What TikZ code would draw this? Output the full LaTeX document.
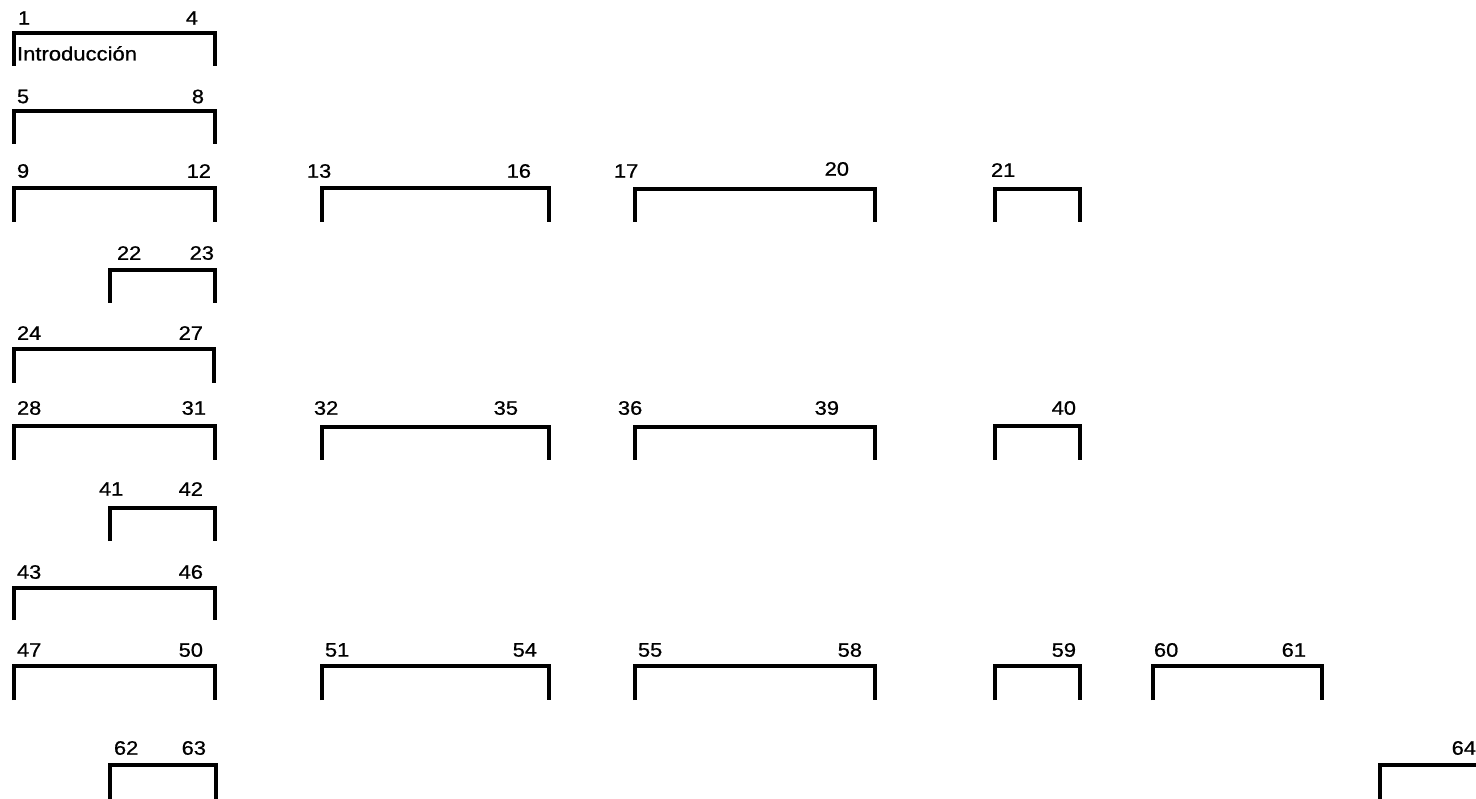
\documentclass[tikz,border=0pt]{standalone}
\usepackage{fontspec}
\setmainfont{Liberation Sans}
\newfontfamily\scanfont[FakeBold=0.7]{Liberation Sans}
\newcommand{\lbx}[1]{\scalebox{1.12}[1]{#1}}
\tikzset{
  bline/.style={draw=black, line width=4.2pt, miter limit=10, line join=miter},
  lbl/.style={inner sep=0pt, outer sep=0pt, font=\scanfont\fontsize{19.5pt}{21pt}\selectfont},
}
% \brk{x1}{x2}{top}{bottom}
\newcommand{\brk}[4]{\draw[bline] (#1,#4) -- (#1,#3) -- (#2,#3) -- (#2,#4);}
\begin{document}
\begin{tikzpicture}[x=1pt,y=-1pt]
\useasboundingbox (0,0) rectangle (1476,799);
\fill[white] (0,0) rectangle (1476,799);
% brackets
\brk{14}{215}{33}{66}
\brk{14}{215}{111}{144}
\brk{14}{215}{188}{222}
\brk{322}{549}{188}{222}
\brk{635}{875}{189}{222}
\brk{995}{1080}{189}{222}
\brk{110}{215}{270}{303}
\brk{14}{214}{349}{383}
\brk{14}{215}{426}{460}
\brk{322}{549}{427}{460}
\brk{635}{875}{427}{460}
\brk{995}{1080}{426}{460}
\brk{110}{215}{508}{541}
\brk{14}{215}{588}{620}
\brk{14}{215}{666}{700}
\brk{322}{549}{666}{700}
\brk{635}{875}{666}{700}
\brk{995}{1080}{666}{700}
\brk{1153}{1322}{666}{700}
\brk{110}{216}{765}{810}
\brk{1380}{1490}{765}{810}
% text
\node[lbl, anchor=base west] (intro) at (17,60.5) {\scalebox{1.13}[1]{Introducción}};
% row 1
\node[lbl, anchor=west] (n1) at (18,18) {\lbx{1}};
\node[lbl, anchor=east] (n4) at (198,18) {\lbx{4}};
% row 2
\node[lbl, anchor=west] (n5) at (17,96.5) {\lbx{5}};
\node[lbl, anchor=east] (n8) at (204,96.5) {\lbx{8}};
% row 3
\node[lbl, anchor=west] (n9) at (17,171) {\lbx{9}};
\node[lbl, anchor=east] (n12) at (211,171) {\lbx{12}};
\node[lbl, anchor=west] (n13) at (307,171) {\lbx{13}};
\node[lbl, anchor=east] (n16) at (531,171) {\lbx{16}};
\node[lbl, anchor=west] (n17) at (614,171) {\lbx{17}};
\node[lbl, anchor=east] (n20) at (849,169) {\lbx{20}};
\node[lbl, anchor=west] (n21) at (991,170) {\lbx{21}};
% row 4
\node[lbl, anchor=west] (n22) at (117,253) {\lbx{22}};
\node[lbl, anchor=east] (n23) at (214,253) {\lbx{23}};
% row 5
\node[lbl, anchor=west] (n24) at (17,333) {\lbx{24}};
\node[lbl, anchor=east] (n27) at (203,333) {\lbx{27}};
% row 6
\node[lbl, anchor=west] (n28) at (17,408) {\lbx{28}};
\node[lbl, anchor=east] (n31) at (206,408) {\lbx{31}};
\node[lbl, anchor=west] (n32) at (314,408) {\lbx{32}};
\node[lbl, anchor=east] (n35) at (518,408) {\lbx{35}};
\node[lbl, anchor=west] (n36) at (618,408) {\lbx{36}};
\node[lbl, anchor=east] (n39) at (839,408) {\lbx{39}};
\node[lbl, anchor=east] (n40) at (1076,408) {\lbx{40}};
% row 7
\node[lbl, anchor=west] (n41) at (99,489) {\lbx{41}};
\node[lbl, anchor=east] (n42) at (203,489) {\lbx{42}};
% row 8
\node[lbl, anchor=west] (n43) at (17,572) {\lbx{43}};
\node[lbl, anchor=east] (n46) at (203,572) {\lbx{46}};
% row 9
\node[lbl, anchor=west] (n47) at (17,650) {\lbx{47}};
\node[lbl, anchor=east] (n50) at (203,650) {\lbx{50}};
\node[lbl, anchor=west] (n51) at (325,650) {\lbx{51}};
\node[lbl, anchor=east] (n54) at (537,650) {\lbx{54}};
\node[lbl, anchor=west] (n55) at (638,650) {\lbx{55}};
\node[lbl, anchor=east] (n58) at (862,650) {\lbx{58}};
\node[lbl, anchor=east] (n59) at (1076,650) {\lbx{59}};
\node[lbl, anchor=west] (n60) at (1154,650) {\lbx{60}};
\node[lbl, anchor=east] (n61) at (1306,650) {\lbx{61}};
% row 10
\node[lbl, anchor=west] (n62) at (114,748) {\lbx{62}};
\node[lbl, anchor=east] (n63) at (206,748) {\lbx{63}};
\node[lbl, anchor=east] (n64) at (1476,748) {\lbx{64}};
\end{tikzpicture}
\end{document}
